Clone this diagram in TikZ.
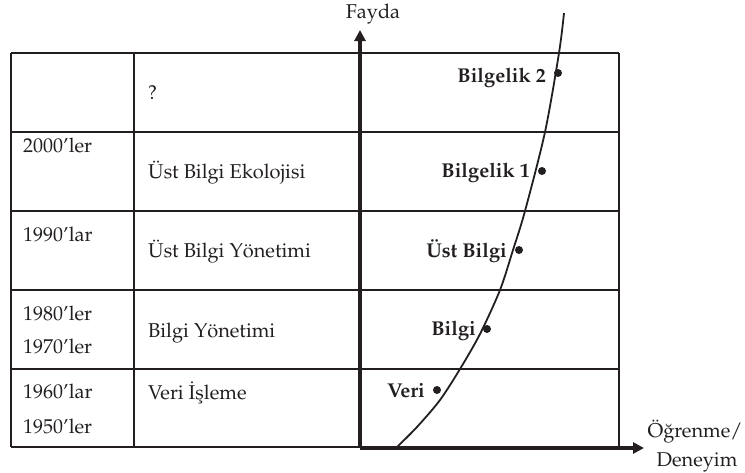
\documentclass[tikz,border=0pt]{standalone}
\usepackage[T1]{fontenc}
\usepackage{mathpazo}
\usetikzlibrary{arrows.meta}
\definecolor{ink}{RGB}{35,31,32}
\tikzset{
  grid/.style={line width=1.6pt},
  axis/.style={line width=3.4pt,-{Triangle[length=11pt,width=11pt]}},
  cell/.style={anchor=base west,inner sep=0pt},
  stagelabel/.style={anchor=base east,inner sep=0pt,font=\fontsize{20}{23}\selectfont\bfseries},
  stagedot/.style={circle,fill=ink,inner sep=0pt,minimum size=8pt}
}
\begin{document}
\begin{tikzpicture}[x=1pt,y=-1pt,draw=ink,text=ink,font=\fontsize{20}{23}\selectfont]
  \useasboundingbox (0,0) rectangle (745,472);
  \begin{scope}[grid]
    \draw (11,53) -- (619,53);
    \draw (11,132) -- (619,132);
    \draw (11,211) -- (619,211);
    \draw (11,290) -- (619,290);
    \draw (11,369) -- (619,369);
    \draw (11,447) -- (360,447);
    \draw (11,53) -- (11,447);
    \draw (134,53) -- (134,447);
    \draw (619,53) -- (619,447);
  \end{scope}
  \coordinate (o) at (360,448);
  \coordinate (ytop) at (360,30);
  \coordinate (xend) at (644,448);
  \draw[axis] (o) -- (ytop);
  \draw[axis] (o) -- (xend);
  \node[anchor=base] (fayda) at (373,18) {Fayda};
  \node[anchor=base] (ogrenme) at (695,437) {\"O\u{g}renme/};
  \node[anchor=base] (deneyim) at (697,466) {Deneyim};
  \draw[line width=1.8pt] plot[smooth,tension=0.5] coordinates
    {(397,447) (417,427) (440,400) (460,369) (480,334) (500,290)
     (513,250) (525,211) (545,132) (559,53) (564,13)};
  \node[cell] (q) at (148,99) {?};
  \node[cell] (y2000) at (23,152) {2000'ler};
  \node[cell] (e2000) at (148,178) {\"Ust Bilgi Ekolojisi};
  \node[cell] (y1990) at (23,241) {1990'lar};
  \node[cell] (e1990) at (148,257) {\"Ust Bilgi Y\"onetimi};
  \node[cell] (y1980) at (23,320) {1980'ler};
  \node[cell] (y1970) at (23,353) {1970'ler};
  \node[cell] (e1970) at (148,337) {Bilgi Y\"onetimi};
  \node[cell] (y1960) at (23,398) {1960'lar};
  \node[cell] (y1950) at (23,433) {1950'ler};
  \node[cell] (e1950) at (148,399) {Veri \.I\c{s}leme};
  \node[stagedot] (d5) at (558,73) {};
  \node[stagedot] (d4) at (542,171) {};
  \node[stagedot] (d3) at (519,250) {};
  \node[stagedot] (d2) at (487,329) {};
  \node[stagedot] (d1) at (437,390) {};
  \node[stagelabel] (bilgelik2) at (546,82) {Bilgelik 2};
  \node[stagelabel] (bilgelik1) at (530,177) {Bilgelik 1};
  \node[stagelabel] (ustbilgi) at (507,257) {\"Ust Bilgi};
  \node[stagelabel] (bilgi) at (476,335) {Bilgi};
  \node[stagelabel] (veri) at (425,397) {Veri};
\end{tikzpicture}
\end{document}
